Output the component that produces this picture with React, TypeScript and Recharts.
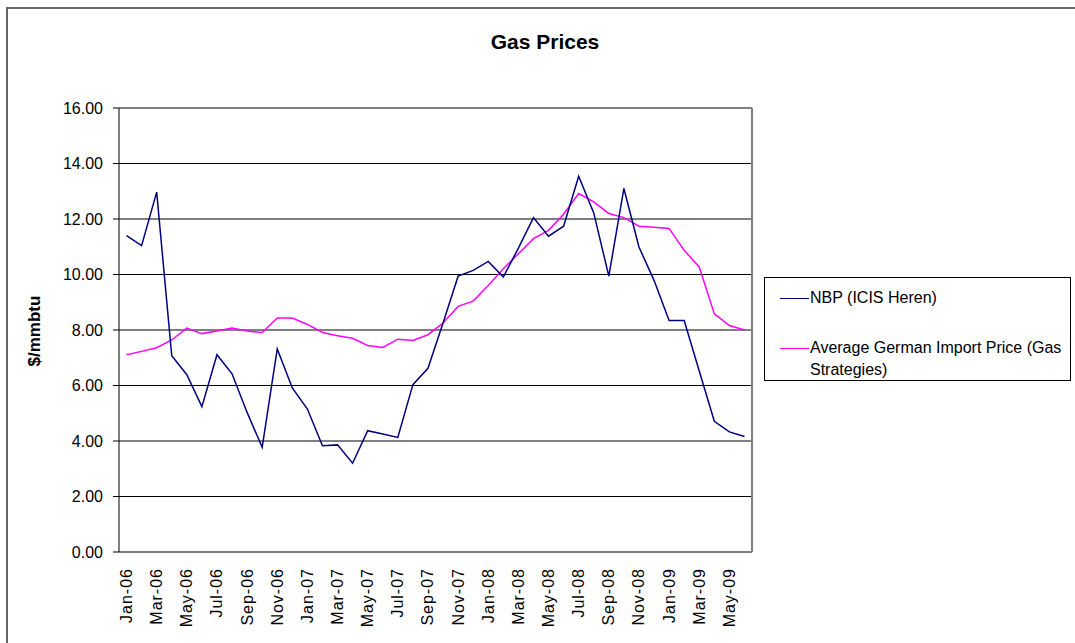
import React from 'react';
import { LineChart, Line, XAxis, YAxis, CartesianGrid, ReferenceLine } from 'recharts';

const months = [
  'Jan-06','Feb-06','Mar-06','Apr-06','May-06','Jun-06','Jul-06','Aug-06','Sep-06','Oct-06','Nov-06','Dec-06',
  'Jan-07','Feb-07','Mar-07','Apr-07','May-07','Jun-07','Jul-07','Aug-07','Sep-07','Oct-07','Nov-07','Dec-07',
  'Jan-08','Feb-08','Mar-08','Apr-08','May-08','Jun-08','Jul-08','Aug-08','Sep-08','Oct-08','Nov-08','Dec-08',
  'Jan-09','Feb-09','Mar-09','Apr-09','May-09','Jun-09',
];

const nbp = [
  11.40, 11.04, 12.97, 7.07, 6.39, 5.24, 7.11, 6.42, 5.03, 3.77, 7.32, 5.91,
  5.15, 3.83, 3.86, 3.20, 4.37, 4.25, 4.13, 6.03, 6.62, 8.25, 9.94, 10.15,
  10.47, 9.91, 10.95, 12.05, 11.38, 11.74, 13.54, 12.22, 9.94, 13.10, 10.99, 9.79,
  8.34, 8.34, 6.52, 4.71, 4.33, 4.16,
];

const german = [
  7.11, 7.23, 7.36, 7.64, 8.07, 7.87, 7.96, 8.07, 7.96, 7.91, 8.43, 8.43,
  8.20, 7.91, 7.79, 7.70, 7.44, 7.37, 7.67, 7.62, 7.83, 8.25, 8.85, 9.04,
  9.60, 10.21, 10.75, 11.29, 11.59, 12.17, 12.92, 12.62, 12.20, 12.05, 11.74, 11.70,
  11.66, 10.87, 10.27, 8.58, 8.16, 8.00,
];

const yTicks = [0, 2, 4, 6, 8, 10, 12, 14, 16];

const seriesNames = ['NBP (ICIS Heren)', 'Average German Import Price (Gas Strategies)'];
const seriesColors = ['#000080', '#FF00FF'];

const data = months.map((m, i) => ({ x: i + 0.5, month: m, nbp: nbp[i], german: german[i] }));
const boundaryTicks = [...months.map((_, i) => i).filter((i) => i % 2 === 0), months.length];
const labelTicks = months.map((_, i) => i).filter((i) => i % 2 === 0).map((i) => i + 0.5);

const FONT = '"Liberation Sans", Arial, sans-serif';

const XTick = (props: any) => {
  const { x, y, payload } = props;
  const label = months[Math.floor(payload.value)];
  return (
    <text
      x={x}
      y={y}
      transform={`rotate(-90, ${x}, ${y})`}
      textAnchor="end"
      dominantBaseline="central"
      fontSize={16}
      fontFamily={FONT}
      letterSpacing={1}
      fill="#000"
    >
      {label}
    </text>
  );
};

export default function App() {
  return (
    <div style={{ position: 'absolute', left: 0, top: 0, width: 1075, height: 643, overflow: 'hidden', background: '#fff', fontFamily: FONT }}>
      <div style={{ position: 'absolute', left: 6, top: 7, width: 1200, height: 800, border: '2px solid #666' }} />
      <div style={{ position: 'absolute', left: 0, top: 30, width: 1090, textAlign: 'center', fontSize: 21, fontWeight: 'bold', color: '#000' }}>
        Gas Prices
      </div>
      <div
        style={{
          position: 'absolute',
          left: 35,
          top: 331,
          transform: 'translate(-50%, -50%) rotate(-90deg)',
          fontSize: 17,
          fontWeight: 'bold',
          whiteSpace: 'nowrap',
          color: '#000',
        }}
      >
        $/mmbtu
      </div>
      <div style={{ position: 'absolute', left: 0, top: 0 }}>
        <LineChart width={1075} height={643} data={data} margin={{ top: 108, right: 323, left: 59, bottom: 11 }}>
          <CartesianGrid xAxisId="l" vertical={false} stroke="#000" strokeWidth={1} />
          <XAxis
            xAxisId="t"
            type="number"
            dataKey="x"
            domain={[0, months.length]}
            ticks={boundaryTicks}
            tick={false}
            tickLine={{ stroke: '#000' }}
            tickSize={5}
            axisLine={{ stroke: '#000' }}
            height={0}
            allowDataOverflow
          />
          <XAxis
            xAxisId="l"
            type="number"
            dataKey="x"
            domain={[0, months.length]}
            ticks={labelTicks}
            interval={0}
            tick={<XTick />}
            tickLine={false}
            tickSize={0}
            tickMargin={16}
            axisLine={false}
            height={80}
            allowDataOverflow
          />
          <YAxis
            type="number"
            domain={[0, 16]}
            ticks={yTicks}
            interval={0}
            tickFormatter={(v: number) => v.toFixed(2)}
            width={60}
            tickSize={6}
            tickMargin={10}
            tick={{ fill: '#000', fontSize: 16, fontFamily: FONT }}
            axisLine={{ stroke: '#000' }}
            tickLine={{ stroke: '#000' }}
          />
          <ReferenceLine y={16} xAxisId="l" stroke="#808080" strokeWidth={2} />
          <ReferenceLine x={months.length} xAxisId="l" stroke="#808080" strokeWidth={2} />
          <Line
            xAxisId="l"
            type="linear"
            dataKey="german"
            name={seriesNames[1]}
            stroke={seriesColors[1]}
            strokeWidth={1.5}
            dot={false}
            isAnimationActive={false}
          />
          <Line
            xAxisId="l"
            type="linear"
            dataKey="nbp"
            name={seriesNames[0]}
            stroke={seriesColors[0]}
            strokeWidth={1.5}
            dot={false}
            isAnimationActive={false}
          />
        </LineChart>
      </div>
      <div
        style={{
          position: 'absolute',
          left: 764,
          top: 277,
          width: 307,
          height: 104,
          border: '1px solid #000',
          boxSizing: 'border-box',
          fontSize: 16,
          color: '#000',
        }}
      >
        {seriesNames.map((name, i) => (
          <div key={name} style={{ position: 'absolute', left: 15, top: i === 0 ? 9 : 59, display: 'flex', alignItems: 'flex-start' }}>
            <div style={{ width: 29, height: 0, borderTop: `1.5px solid ${seriesColors[i]}`, marginTop: 11, flex: 'none' }} />
            <div style={{ width: 258, lineHeight: '22px', marginLeft: 1 }}>{name}</div>
          </div>
        ))}
      </div>
    </div>
  );
}
